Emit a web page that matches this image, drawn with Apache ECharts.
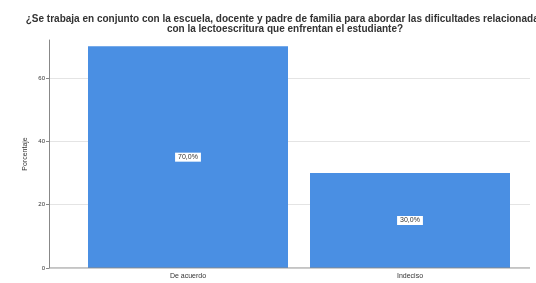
<!DOCTYPE html>
<html><head><meta charset="utf-8">
<script src="https://cdn.jsdelivr.net/npm/echarts@6/dist/echarts.min.js"></script>
<style>html,body{margin:0;padding:0;background:#fff}#c{width:536px;height:283px}</style>
</head><body><div id="c"></div>
<script>
const categories = ['De acuerdo', 'Indeciso'];
const values = [70.0, 30.0];
const yTicks = [0, 20, 40, 60];
const titleText = '¿Se trabaja en conjunto con la escuela, docente y padre de familia para abordar las dificultades relacionadas\ncon la lectoescritura que enfrentan el estudiante?';

const chart = echarts.init(document.getElementById('c'));
const yMax = 72;
chart.setOption({
  animation: false,
  title: {
    text: titleText, left: 280, top: 9, textAlign: 'center',
    textStyle: {fontSize: 10, fontWeight: 'bold', color: '#333', fontFamily: 'Liberation Sans', lineHeight: 10}
  },
  grid: [
    {left: 49, right: 6, top: 78, bottom: 15},
    {left: 77, right: 15, top: 40, bottom: 15},
    {left: 49, right: 6, top: 40, bottom: 15}
  ],
  xAxis: [
    {gridIndex: 0, type: 'value', min: 0, max: 1, show: false},
    {gridIndex: 1, type: 'category', data: categories,
     axisLine: {show: false}, axisTick: {show: false},
     axisLabel: {fontSize: 7, color: '#333', margin: 5, fontFamily: 'Liberation Sans'}},
    {gridIndex: 2, type: 'value', min: 0, max: 1, show: false}
  ],
  yAxis: [
    {gridIndex: 0, type: 'value', min: 0, max: 60, interval: 20,
     axisLine: {show: false},
     axisTick: {show: true, length: 3, lineStyle: {color: '#888'}},
     axisLabel: {fontSize: 6, color: '#333', margin: 4,
       formatter: v => yTicks.includes(v) ? String(v) : ''},
     splitLine: {show: true, lineStyle: {color: '#e4e4e4', width: 1}}},
    {gridIndex: 1, type: 'value', min: 0, max: yMax, show: false},
    {gridIndex: 2, type: 'value', min: 0, max: yMax,
     name: 'Porcentaje', nameLocation: 'middle', nameGap: 20, nameRotate: 90,
     nameTextStyle: {fontSize: 7, color: '#333', fontFamily: 'Liberation Sans'},
     axisLine: {show: true, lineStyle: {color: '#888'}},
     axisTick: {show: false}, axisLabel: {show: false}, splitLine: {show: false}}
  ],
  series: [
    {type: 'line', xAxisIndex: 0, yAxisIndex: 0, data: [[0, 0], [1, 0]],
     symbol: 'none', lineStyle: {color: '#888', width: 1}, silent: true},
    {type: 'bar', xAxisIndex: 1, yAxisIndex: 1, data: values, barWidth: 200,
     itemStyle: {color: '#4A8FE3'},
     label: {show: true, position: 'inside', formatter: p => p.value.toFixed(1).replace('.', ',') + '%',
       fontSize: 7, color: '#333', backgroundColor: '#fff', padding: [1, 3],
       fontFamily: 'Liberation Sans'}}
  ]
});
</script></body></html>
